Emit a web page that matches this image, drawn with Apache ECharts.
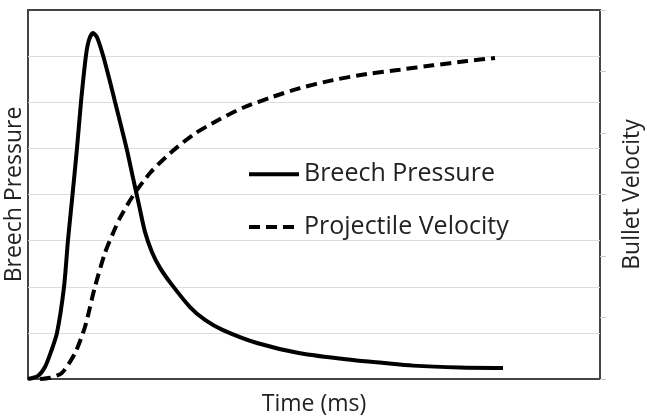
<!DOCTYPE html>
<html>
<head>
	<title></title>
	<script type="text/javascript" src="https://cdn.jsdelivr.net/npm/echarts@6/dist/echarts.min.js"></script>
</head>
<body style="margin:0;">
<div id="chart" style="width:647px;height:420px;"></div>
<script type="text/javascript">
// time (ms, arbitrary units) and breech pressure (left axis)
var pressureTime = [0, 1.75, 2.97, 4.02, 5.07, 6.29, 6.99, 7.69, 8.57, 9.27, 10.14, 10.66, 11.36, 12.06, 13.11, 14.16, 15.21, 16.26, 17.31, 18.36, 19.41, 20.45, 21.68, 23.08, 25.17, 28.32, 30.94, 34.09, 40.03, 47.55, 56.82, 61.89, 67.31, 75.5, 83.04];
var pressure = [0, 0.07, 0.26, 0.59, 1.0, 1.99, 3.01, 3.88, 5.01, 6.01, 7.02, 7.35, 7.5, 7.41, 7.02, 6.53, 6.01, 5.49, 4.96, 4.36, 3.77, 3.19, 2.75, 2.41, 2.04, 1.56, 1.28, 1.06, 0.78, 0.56, 0.41, 0.35, 0.29, 0.25, 0.24];

// projectile velocity (right axis)
var velocityTime = [2.1, 3.85, 5.94, 8.22, 9.97, 11.71, 13.46, 14.86, 16.08, 18.36, 21.33, 24.83, 28.85, 33.04, 37.59, 42.83, 47.55, 53.32, 59.27, 65.03, 70.8, 76.75, 81.64];
var velocity = [0, 0.02, 0.1, 0.42, 0.85, 1.5, 2.05, 2.37, 2.62, 2.98, 3.35, 3.67, 3.97, 4.2, 4.41, 4.59, 4.73, 4.86, 4.96, 5.03, 5.1, 5.17, 5.22];

var seriesNames = ['Breech Pressure', 'Projectile Velocity'];

function pairs(xs, ys) {
	return xs.map(function (x, i) { return [x, ys[i]]; });
}

var myChart = echarts.init(document.getElementById('chart'));
var font = '"Open Sans", Lato, sans-serif';
var option = {
	animation: false,
	textStyle: { fontFamily: font },
	grid: {
		left: 28, right: 47, top: 10, bottom: 41,
		outerBoundsMode: 'none', containLabel: false,
		show: true, borderColor: '#444', borderWidth: 2
	},
	legend: {
		orient: 'vertical',
		left: 242, top: 149,
		itemWidth: 50, itemHeight: 20, itemGap: 12,
		data: seriesNames,
		itemStyle: { opacity: 0 },
		lineStyle: { width: 4 },
		textStyle: { fontSize: 25, color: '#222', fontFamily: font, lineHeight: 30 }
	},
	xAxis: {
		type: 'value', min: 0, max: 100,
		name: 'Time (ms)', nameLocation: 'middle', nameGap: 13,
		nameTextStyle: { fontSize: 23, color: '#222', lineHeight: 24 },
		axisLine: { show: false }, axisTick: { show: false },
		axisLabel: { show: false }, splitLine: { show: false }
	},
	yAxis: [
		{
			type: 'value', min: 0, max: 8, interval: 1,
			name: 'Breech Pressure', nameLocation: 'middle', nameGap: 2, nameRotate: 90,
			nameTextStyle: { fontSize: 23, color: '#222', lineHeight: 24 },
			axisLine: { show: false }, axisTick: { show: false },
			axisLabel: { show: false },
			splitLine: { show: true, showMinLine: false, showMaxLine: false, lineStyle: { color: '#dcdcdc', width: 1 } }
		},
		{
			type: 'value', min: 0, max: 6, interval: 1,
			name: 'Bullet Velocity', nameLocation: 'middle', nameGap: 20, nameRotate: 90,
			nameTextStyle: { fontSize: 23, color: '#222', lineHeight: 24 },
			axisLine: { show: false },
			axisTick: { show: true, length: 6, lineStyle: { color: '#ccc' } },
			axisLabel: { show: false }, splitLine: { show: false }
		}
	],
	series: [
		{
			name: seriesNames[0], type: 'line', yAxisIndex: 0,
			data: pairs(pressureTime, pressure),
			smooth: 0.25, symbol: 'none',
			lineStyle: { color: '#000', width: 4 },
			itemStyle: { color: '#000' }
		},
		{
			name: seriesNames[1], type: 'line', yAxisIndex: 1,
			data: pairs(velocityTime, velocity),
			smooth: 0.25, symbol: 'none',
			lineStyle: { color: '#000', width: 4, type: [11, 6] },
			itemStyle: { color: '#000' }
		}
	]
};
myChart.setOption(option);
</script>
</body>
</html>
